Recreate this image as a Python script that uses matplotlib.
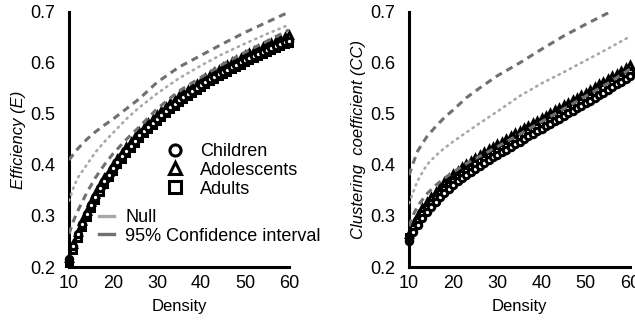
import matplotlib
matplotlib.use("Agg")
import matplotlib.pyplot as plt
from matplotlib.lines import Line2D

plt.rcParams['font.family'] = ['Liberation Sans', 'DejaVu Sans']

# density (%) for the group curves, one marker per step
density = list(range(10, 61))

# global efficiency per group
eff_children = [0.215, 0.241, 0.264, 0.285, 0.304, 0.322, 0.338, 0.354, 0.368, 0.381,
                0.394, 0.406, 0.417, 0.428, 0.438, 0.448, 0.458, 0.466, 0.475, 0.483,
                0.491, 0.499, 0.506, 0.513, 0.520, 0.527, 0.533, 0.539, 0.545, 0.551,
                0.557, 0.562, 0.568, 0.573, 0.578, 0.583, 0.587, 0.592, 0.597, 0.601,
                0.606, 0.610, 0.614, 0.618, 0.622, 0.626, 0.630, 0.633, 0.637, 0.641, 0.644]
eff_adolescents = [0.218, 0.245, 0.268, 0.290, 0.309, 0.327, 0.344, 0.360, 0.374, 0.387,
                   0.400, 0.412, 0.424, 0.435, 0.445, 0.455, 0.465, 0.473, 0.482, 0.490,
                   0.498, 0.506, 0.514, 0.521, 0.528, 0.535, 0.541, 0.547, 0.553, 0.559,
                   0.565, 0.571, 0.577, 0.582, 0.587, 0.592, 0.596, 0.601, 0.606, 0.610,
                   0.615, 0.619, 0.623, 0.627, 0.631, 0.635, 0.639, 0.643, 0.647, 0.651, 0.655]
eff_adults = [0.208, 0.234, 0.257, 0.278, 0.298, 0.316, 0.332, 0.348, 0.362, 0.376,
              0.389, 0.401, 0.412, 0.423, 0.433, 0.443, 0.453, 0.462, 0.471, 0.479,
              0.487, 0.495, 0.502, 0.509, 0.516, 0.523, 0.529, 0.535, 0.541, 0.547,
              0.553, 0.558, 0.564, 0.569, 0.574, 0.579, 0.583, 0.588, 0.593, 0.597,
              0.602, 0.606, 0.610, 0.614, 0.618, 0.622, 0.626, 0.629, 0.633, 0.637, 0.640]

# clustering coefficient per group
cc_children = [0.250, 0.268, 0.283, 0.296, 0.308, 0.318, 0.328, 0.337, 0.345, 0.353,
               0.361, 0.368, 0.375, 0.381, 0.387, 0.393, 0.399, 0.404, 0.410, 0.415,
               0.420, 0.425, 0.430, 0.436, 0.441, 0.446, 0.451, 0.456, 0.461, 0.466,
               0.471, 0.476, 0.481, 0.486, 0.491, 0.496, 0.501, 0.506, 0.511, 0.516,
               0.521, 0.526, 0.532, 0.537, 0.542, 0.547, 0.553, 0.558, 0.563, 0.569, 0.575]
cc_adolescents = [0.265, 0.285, 0.301, 0.315, 0.327, 0.338, 0.348, 0.357, 0.366, 0.374,
                  0.382, 0.389, 0.396, 0.402, 0.408, 0.414, 0.420, 0.425, 0.431, 0.436,
                  0.441, 0.446, 0.451, 0.457, 0.462, 0.467, 0.472, 0.477, 0.482, 0.487,
                  0.492, 0.497, 0.502, 0.507, 0.512, 0.517, 0.522, 0.527, 0.532, 0.537,
                  0.542, 0.547, 0.553, 0.558, 0.563, 0.568, 0.574, 0.579, 0.584, 0.590, 0.596]
cc_adults = [0.258, 0.276, 0.291, 0.304, 0.316, 0.326, 0.336, 0.345, 0.353, 0.361,
             0.369, 0.376, 0.383, 0.389, 0.395, 0.401, 0.407, 0.412, 0.418, 0.423,
             0.428, 0.433, 0.438, 0.444, 0.449, 0.454, 0.459, 0.464, 0.469, 0.474,
             0.479, 0.484, 0.489, 0.494, 0.499, 0.504, 0.509, 0.514, 0.519, 0.524,
             0.529, 0.534, 0.540, 0.545, 0.550, 0.555, 0.561, 0.566, 0.571, 0.577, 0.583]

# null model and its 95% confidence interval
null_density = [10, 11, 12, 14, 16, 18, 20, 23, 26, 30, 35, 40, 45, 50, 55, 60]
eff_null = [0.330, 0.355, 0.375, 0.400, 0.425, 0.445, 0.463, 0.490, 0.513, 0.540,
            0.570, 0.595, 0.618, 0.638, 0.657, 0.675]
eff_ci_hi = [0.410, 0.421, 0.432, 0.450, 0.465, 0.478, 0.490, 0.510, 0.530, 0.562,
             0.592, 0.615, 0.638, 0.660, 0.680, 0.700]
eff_ci_lo = [0.265, 0.290, 0.310, 0.345, 0.375, 0.400, 0.422, 0.450, 0.475, 0.510,
             0.545, 0.572, 0.598, 0.621, 0.643, 0.665]
cc_null = [0.325, 0.348, 0.370, 0.400, 0.418, 0.433, 0.446, 0.464, 0.482, 0.505,
           0.535, 0.560, 0.582, 0.605, 0.628, 0.652]
cc_ci_hi = [0.380, 0.405, 0.428, 0.455, 0.475, 0.493, 0.508, 0.532, 0.551, 0.575,
            0.600, 0.627, 0.653, 0.676, 0.698, 0.720]
cc_ci_lo = [0.280, 0.303, 0.320, 0.343, 0.360, 0.374, 0.386, 0.403, 0.417, 0.436,
            0.460, 0.485, 0.510, 0.535, 0.560, 0.588]

NULL_COL = '#a8a8a8'
CI_COL = '#707070'

fig = plt.figure(figsize=(6.35, 3.2), dpi=100)
ax1 = fig.add_axes([69/635, 1-267/320, 220/635, 255/320])
ax2 = fig.add_axes([409/635, 1-267/320, 221/635, 255/320])


def draw(ax, ado, adu, chi, null, hi, lo, ylab):
    mk = dict(color='black', markerfacecolor='white', markeredgecolor='black',
              markeredgewidth=2.2, markersize=4.6, linestyle='none', clip_on=False)
    ax.plot(density, ado, marker='^', **mk)
    ax.plot(density, adu, marker='s', **mk)
    ax.plot(density, chi, marker='o', **mk)
    ax.plot(null_density, null, color=NULL_COL, lw=1.9, linestyle=(0, (0.5, 1.9)),
            dash_capstyle='round', zorder=4)
    ax.plot(null_density, hi, color=CI_COL, lw=2.2, linestyle=(0, (2.3, 1.7)), zorder=4)
    ax.plot(null_density, lo, color=CI_COL, lw=2.2, linestyle=(0, (2.3, 1.7)), zorder=4)
    ax.set_xlim(10, 60)
    ax.set_ylim(0.2, 0.7)
    ax.set_xticks([10, 20, 30, 40, 50, 60])
    ax.set_yticks([0.2, 0.3, 0.4, 0.5, 0.6, 0.7])
    ax.set_yticklabels(['0.2', '0.3', '0.4', '0.5', '0.6', '0.7'])
    ax.tick_params(length=0, labelsize=13, pad=6)
    ax.tick_params(axis='y', pad=10)
    for s in ['top', 'right']:
        ax.spines[s].set_visible(False)
    for s in ['left', 'bottom']:
        ax.spines[s].set_linewidth(2.2)
    ax.set_xlabel('Density', fontsize=12, labelpad=5)
    ax.set_ylabel(ylab, fontsize=12, style='italic', labelpad=3)


draw(ax1, eff_adolescents, eff_adults, eff_children, eff_null, eff_ci_hi, eff_ci_lo,
     'Efficiency (E)')
draw(ax2, cc_adolescents, cc_adults, cc_children, cc_null, cc_ci_hi, cc_ci_lo,
     'Clustering  coefficient (CC)')

mk_leg = dict(color='black', markerfacecolor='white', markeredgecolor='black',
              markeredgewidth=2.2, markersize=8, linestyle='none')
grp_handles = [Line2D([], [], marker='o', **mk_leg),
               Line2D([], [], marker='^', **mk_leg),
               Line2D([], [], marker='s', **mk_leg)]
leg1 = ax1.legend(grp_handles, ['Children', 'Adolescents', 'Adults'],
                  loc='upper left', bbox_to_anchor=(166/635, 1-143/320),
                  bbox_transform=fig.transFigure, frameon=False, fontsize=13,
                  handlelength=1.0, handletextpad=0.9, labelspacing=0.1,
                  borderpad=0, borderaxespad=0)
ax1.add_artist(leg1)
line_handles = [Line2D([], [], color=NULL_COL, lw=2.4),
                Line2D([], [], color=CI_COL, lw=2.4)]
ax1.legend(line_handles, ['Null', '95% Confidence interval'],
           loc='upper left', bbox_to_anchor=(99/635, 1-209/320),
           bbox_transform=fig.transFigure, frameon=False, fontsize=13,
           handlelength=0.85, handletextpad=0.6, labelspacing=0.1,
           borderpad=0, borderaxespad=0)

fig.savefig('out.png', dpi=100)
